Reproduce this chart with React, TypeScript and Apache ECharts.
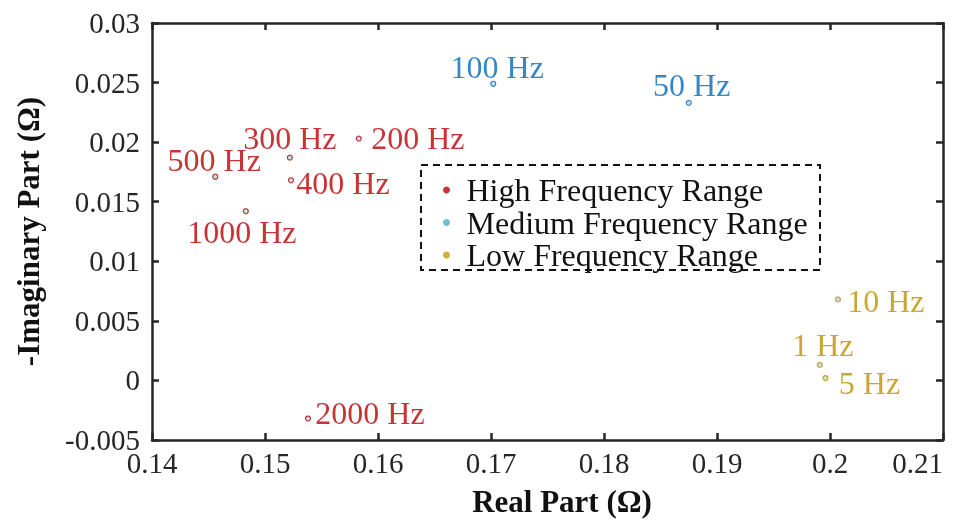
import React, { useEffect, useRef } from "react";
import * as echarts from "echarts";

const xTicks = { min: 0.14, max: 0.21, interval: 0.01 };
const yTicks = { min: -0.005, max: 0.03, interval: 0.005 };

const highNames = ["200 Hz", "300 Hz", "400 Hz", "500 Hz", "1000 Hz", "2000 Hz"];
const highX = [0.1583, 0.1522, 0.1523, 0.1456, 0.1483, 0.1538];
const highY = [0.0203, 0.0187, 0.0168, 0.0171, 0.0142, -0.0032];
const highOffsets = [[59, -1], [0, -20], [52, 3], [-1, -17], [-4, 21], [62, -6]];

const medNames = ["50 Hz", "100 Hz"];
const medX = [0.1875, 0.1702];
const medY = [0.0233, 0.0249];
const medOffsets = [[3, -18], [4, -17]];

const lowNames = ["1 Hz", "5 Hz", "10 Hz"];
const lowX = [0.1991, 0.1996, 0.2007];
const lowY = [0.0013, 0.0002, 0.0068];
const lowOffsets = [[3, -20], [44, 5], [48, 2]];

const legendNames = ["High Frequency Range", "Medium Frequency Range", "Low Frequency Range"];

const FONT = "'Liberation Serif', 'Times New Roman', serif";
const AXIS = "#262626";

function buildData(names: string[], xs: number[], ys: number[], offs: number[][], color: string) {
  return names.map((n, i) => ({
    name: n,
    value: [xs[i], ys[i]],
    label: {
      show: true,
      formatter: n,
      position: "inside",
      align: "center",
      verticalAlign: "middle",
      offset: offs[i],
      color,
      fontFamily: FONT,
      fontSize: 32,
    },
  }));
}

export default function App() {
  const ref = useRef<HTMLDivElement>(null);
  useEffect(() => {
    if (!ref.current) return;
    const chart = echarts.init(ref.current, null, { renderer: "svg" });
    const axisCommon = {
      axisLine: { show: true, onZero: false, lineStyle: { color: AXIS, width: 2.5 } },
      axisTick: { show: true, inside: true, length: 7, lineStyle: { color: AXIS, width: 2.5 } },
      splitLine: { show: false },
    };
    const series = [
      { name: legendNames[0], color: "#BA0000", legendColor: "#C00000", data: buildData(highNames, highX, highY, highOffsets, "#BA0000") },
      { name: legendNames[1], color: "#0068BA", legendColor: "#4BACC6", data: buildData(medNames, medX, medY, medOffsets, "#0068BA") },
      { name: legendNames[2], color: "#BF9000", legendColor: "#C8960A", data: buildData(lowNames, lowX, lowY, lowOffsets, "#BF9000") },
    ];
    chart.setOption({
      animation: false,
      grid: { left: 152, right: 13, top: 23, bottom: 81, containLabel: false, outerBoundsMode: "none" },
      legend: {
        orient: "vertical",
        left: 433,
        top: 165,
        padding: [9, 10, 11, 10],
        itemWidth: 30,
        itemHeight: 7,
        itemGap: 0.5,
        icon: "circle",
        textStyle: { fontFamily: FONT, fontSize: 32, color: "#111", lineHeight: 28 },
        data: series.map((s) => ({ name: s.name, icon: "circle", itemStyle: { color: s.legendColor, borderWidth: 0 } })),
      },
      graphic: [
        {
          type: "rect",
          shape: { x: 421, y: 165, width: 399, height: 105 },
          style: { fill: "none", stroke: "#111", lineWidth: 2, lineDash: [7, 5] },
          z: 10,
        },
      ],
      xAxis: [
        {
          type: "value",
          min: xTicks.min,
          max: xTicks.max,
          interval: xTicks.interval,
          position: "bottom",
          name: "Real Part (Ω)",
          nameLocation: "middle",
          nameGap: 46,
          nameTextStyle: { fontFamily: FONT, fontSize: 31, fontWeight: "bold", color: "#111", padding: [0, 0, 0, 29] },
          axisLabel: { fontFamily: FONT, fontSize: 29, color: AXIS, margin: 8, alignMaxLabel: "right" },
          ...axisCommon,
        },
        {
          type: "value",
          min: xTicks.min,
          max: xTicks.max,
          interval: xTicks.interval,
          position: "top",
          axisLabel: { show: false },
          ...axisCommon,
        },
      ],
      yAxis: [
        {
          type: "value",
          min: yTicks.min,
          max: yTicks.max,
          interval: yTicks.interval,
          position: "left",
          name: "-Imaginary Part (Ω)",
          nameLocation: "middle",
          nameGap: 108,
          nameRotate: 90,
          nameTextStyle: { fontFamily: FONT, fontSize: 31, fontWeight: "bold", color: "#111" },
          axisLabel: { fontFamily: FONT, fontSize: 29, color: AXIS, margin: 12 },
          ...axisCommon,
        },
        {
          type: "value",
          min: yTicks.min,
          max: yTicks.max,
          interval: yTicks.interval,
          position: "right",
          axisLabel: { show: false },
          ...axisCommon,
        },
      ],
      series: series.map((s) => ({
        name: s.name,
        type: "scatter",
        symbol: "circle",
        symbolSize: 5,
        itemStyle: { color: "#BDD7EE", borderColor: s.color, borderWidth: 1.2 },
        data: s.data,
        z: 5,
      })),
    });
    return () => chart.dispose();
  }, []);
  return <div ref={ref} style={{ position: "fixed", left: 0, top: 0, width: 956, height: 521 }} />;
}
